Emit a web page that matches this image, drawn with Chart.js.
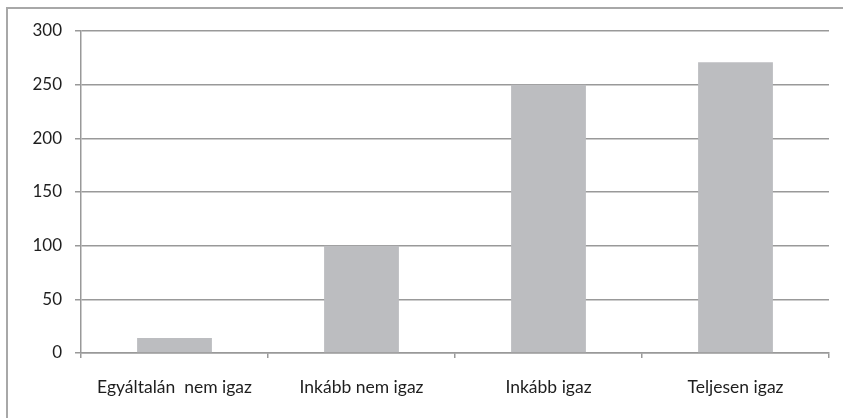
<!DOCTYPE html>
<html>
<head>
<meta charset="utf-8">
<script src="https://cdn.jsdelivr.net/npm/chart.js@4"></script>
<style>
  html, body { margin: 0; padding: 0; background: #fff; }
  #wrap { position: relative; width: 843px; height: 418px; overflow: hidden; }
  #frame {
    position: absolute; left: 6px; top: 7px; width: 900px; height: 500px;
    border-left: 2px solid #a8a8a8; border-top: 2px solid #a8a8a8;
  }
  canvas { position: absolute; left: 0; top: 0; }
</style>
</head>
<body>
<div id="wrap">
  <div id="frame"></div>
  <canvas id="chart"></canvas>
</div>
<script>
const categories = ["Egyáltalán  nem igaz", "Inkább nem igaz", "Inkább igaz", "Teljesen igaz"];
const counts = [14, 100, 250, 271];
const yMax = 300;
const yStep = 50;

const lineColor = "#999999";
const textColor = "#1e1e1e";
const barColor = "#bcbdc0";

const ctx = document.getElementById("chart").getContext("2d");
new Chart(ctx, {
  type: "bar",
  data: {
    labels: categories,
    datasets: [
      {
        data: counts,
        backgroundColor: barColor,
        borderWidth: 0,
        barPercentage: 0.4,
        categoryPercentage: 1,
      },
    ],
  },
  options: {
    responsive: true,
    maintainAspectRatio: false,
    animation: false,
    layout: { padding: { left: 0, top: 31, right: 14, bottom: 0 } },
    plugins: { legend: { display: false }, tooltip: { enabled: false } },
    scales: {
      x: {
        offset: true,
        grid: { offset: true, drawOnChartArea: false, drawTicks: true, tickLength: 5, color: lineColor, lineWidth: 1.5 },
        border: { display: true, color: lineColor, width: 1.5 },
        ticks: { color: textColor, padding: 19, maxRotation: 0, font: { family: "Lato", size: 17.5 } },
        afterFit: (scale) => { scale.height = 65; },
      },
      y: {
        min: 0,
        max: yMax,
        grid: { color: lineColor, lineWidth: 1.5, tickLength: 6 },
        border: { display: true, color: lineColor, width: 1.5 },
        ticks: { stepSize: yStep, color: textColor, padding: 13, font: { family: "Lato", size: 17 } },
        afterFit: (scale) => { scale.width = 81; },
      },
    },
  },
});
</script>
</body>
</html>
